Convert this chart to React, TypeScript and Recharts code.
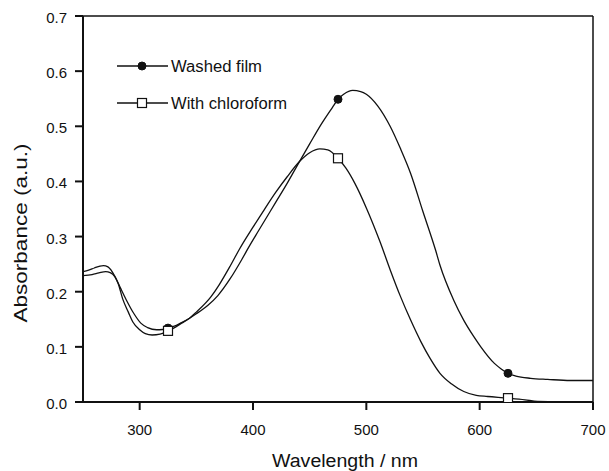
import React from "react";
import { LineChart, Line, XAxis, YAxis, ReferenceLine } from "recharts";

// wavelength (nm) / absorbance
const washedX = [250, 255, 260, 265, 268, 272, 278, 283, 288, 295, 301, 307, 315, 320, 325, 330, 337, 344, 350, 360, 369, 380, 390, 396, 405, 420, 430, 441, 450, 460, 470, 475, 480, 488, 495, 500, 510, 521, 530, 539, 550, 561, 565, 577, 586, 595, 601, 613, 619, 625, 632, 645, 660, 680, 700];
const washedY = [0.2365, 0.239, 0.243, 0.2465, 0.2474, 0.245, 0.2285, 0.207, 0.186, 0.16, 0.143, 0.135, 0.131, 0.1315, 0.134, 0.137, 0.144, 0.152, 0.16, 0.175, 0.193, 0.224, 0.258, 0.28, 0.311, 0.362, 0.396, 0.436, 0.468, 0.503, 0.534, 0.549, 0.558, 0.565, 0.563, 0.558, 0.537, 0.5, 0.46, 0.415, 0.345, 0.276, 0.248, 0.185, 0.148, 0.118, 0.1, 0.07, 0.06, 0.052, 0.047, 0.043, 0.041, 0.039, 0.039];

const chloroX = [250, 258, 264, 270, 274, 278, 281, 285, 290, 294, 300, 305, 311, 318, 325, 330, 337, 344, 350, 363, 370, 380, 388, 400, 410, 420, 430, 441, 450, 459, 466, 475, 482, 490, 500, 512, 521, 530, 539, 548, 556, 565, 575, 586, 597, 607, 625, 640, 651, 670, 700];
const chloroY = [0.229, 0.231, 0.234, 0.2365, 0.2345, 0.2275, 0.215, 0.187, 0.163, 0.145, 0.131, 0.124, 0.1215, 0.123, 0.129, 0.134, 0.143, 0.152, 0.163, 0.191, 0.212, 0.247, 0.277, 0.317, 0.349, 0.38, 0.408, 0.436, 0.452, 0.459, 0.457, 0.442, 0.424, 0.396, 0.352, 0.291, 0.24, 0.192, 0.149, 0.11, 0.08, 0.052, 0.033, 0.019, 0.012, 0.01, 0.007, 0.004, 0.001, 0.0005, 0.0005];

const markerX = [325, 475, 625];

const xMajor = [300, 400, 500, 600, 700];
const xMinor = Array.from({ length: 23 }, (_, i) => 260 + i * 20);
const yMajor = [0, 0.1, 0.2, 0.3, 0.4, 0.5, 0.6, 0.7];
const yMinor = Array.from({ length: 36 }, (_, i) => i / 50);

const seriesNames = ["Washed film", "With chloroform"];

const washedData = washedX.map((x, i) => ({ x, y: washedY[i] }));
const chloroData = chloroX.map((x, i) => ({ x, y: chloroY[i] }));

const FONT = "Arial, 'Liberation Sans', Helvetica, sans-serif";
const INK = "#111";

function Marker({ cx, cy, kind }: { cx: number; cy: number; kind: "circle" | "square" }) {
  if (kind === "circle") return <circle cx={cx} cy={cy} r={4} fill={INK} stroke={INK} />;
  return <rect x={cx - 4.5} y={cy - 4.5} width={9} height={9} fill="#fff" stroke={INK} strokeWidth={1.2} />;
}

const makeDot = (kind: "circle" | "square") => (props: any) => {
  const { cx, cy, payload, index } = props;
  if (!markerX.includes(payload.x)) return <g key={`d-${kind}-${index}`} />;
  return (
    <g key={`d-${kind}-${index}`}>
      <Marker cx={cx} cy={cy} kind={kind} />
    </g>
  );
};

const EmptyTick = () => <g />;

const XLabel = (props: any) => {
  const { x, y, payload } = props;
  return (
    <text x={x} y={y + 25} textAnchor="middle" fontSize={15} fontFamily={FONT} fill={INK}>
      {payload.value}
    </text>
  );
};

const YLabel = (props: any) => {
  const { x, y, payload } = props;
  return (
    <text x={x - 8} y={y + 7} textAnchor="end" fontSize={15} fontFamily={FONT} fill={INK}>
      {payload.value.toFixed(1)}
    </text>
  );
};

export default function App() {
  return (
    <div style={{ position: "absolute", left: 0, top: 0, width: 609, height: 471, background: "#fff" }}>
      <LineChart width={609} height={471} margin={{ top: 16, right: 16, bottom: 0, left: 0 }}>
        {/* minor-tick axes, declared first so they sit on the plot edge */}
        <XAxis
          xAxisId="minor"
          dataKey="x"
          type="number"
          domain={[250, 700]}
          ticks={xMinor}
          interval={0}
          allowDataOverflow
          height={0}
          tickSize={5}
          tickMargin={0}
          axisLine={false}
          tickLine={{ stroke: INK, strokeWidth: 1.5 }}
          tick={EmptyTick}
        />
        <YAxis
          yAxisId="minor"
          dataKey="y"
          type="number"
          domain={[0, 0.7]}
          ticks={yMinor}
          interval={0}
          allowDataOverflow
          width={0}
          tickSize={5}
          tickMargin={0}
          axisLine={false}
          tickLine={{ stroke: INK, strokeWidth: 1.5 }}
          tick={EmptyTick}
        />
        <XAxis
          dataKey="x"
          type="number"
          domain={[250, 700]}
          ticks={xMajor}
          interval={0}
          allowDataOverflow
          height={69}
          tickSize={8}
          tickMargin={0}
          axisLine={{ stroke: INK, strokeWidth: 2 }}
          tickLine={{ stroke: INK, strokeWidth: 2 }}
          tick={<XLabel />}
        />
        <YAxis
          dataKey="y"
          type="number"
          domain={[0, 0.7]}
          ticks={yMajor}
          interval={0}
          allowDataOverflow
          width={83}
          tickSize={8}
          tickMargin={0}
          axisLine={{ stroke: INK, strokeWidth: 2 }}
          tickLine={{ stroke: INK, strokeWidth: 2 }}
          tick={<YLabel />}
        />
        <ReferenceLine y={0.7} stroke={INK} strokeWidth={1.5} />
        <ReferenceLine x={700} stroke={INK} strokeWidth={1.5} />
        <Line
          data={washedData}
          dataKey="y"
          name={seriesNames[0]}
          type="monotone"
          stroke={INK}
          strokeWidth={1.3}
          dot={makeDot("circle")}
          activeDot={false}
          isAnimationActive={false}
        />
        <Line
          data={chloroData}
          xAxisId="minor"
          yAxisId="minor"
          dataKey="y"
          name={seriesNames[1]}
          type="monotone"
          stroke={INK}
          strokeWidth={1.3}
          dot={makeDot("square")}
          activeDot={false}
          isAnimationActive={false}
        />
      </LineChart>
      <svg width={609} height={471} style={{ position: "absolute", left: 0, top: 0, pointerEvents: "none" }}>
        {seriesNames.map((name, i) => {
          const cy = 66 + i * 37;
          return (
            <g key={name}>
              <line x1={117} x2={168} y1={cy} y2={cy} stroke={INK} strokeWidth={1.3} />
              <Marker cx={142} cy={cy} kind={i === 0 ? "circle" : "square"} />
              <text x={171} y={cy + 6} fontSize={16} fontFamily={FONT} fill={INK} textLength={i === 0 ? 91 : 116} lengthAdjust="spacingAndGlyphs">
                {name}
              </text>
            </g>
          );
        })}
        <text x={345} y={467} textAnchor="middle" fontSize={18} fontFamily={FONT} fill={INK} textLength={146} lengthAdjust="spacingAndGlyphs">
          Wavelength / nm
        </text>
        <text
          transform="translate(27,233) rotate(-90)"
          textAnchor="middle"
          fontSize={18}
          fontFamily={FONT}
          fill={INK}
          textLength={179}
          lengthAdjust="spacingAndGlyphs"
        >
          Absorbance (a.u.)
        </text>
      </svg>
    </div>
  );
}
